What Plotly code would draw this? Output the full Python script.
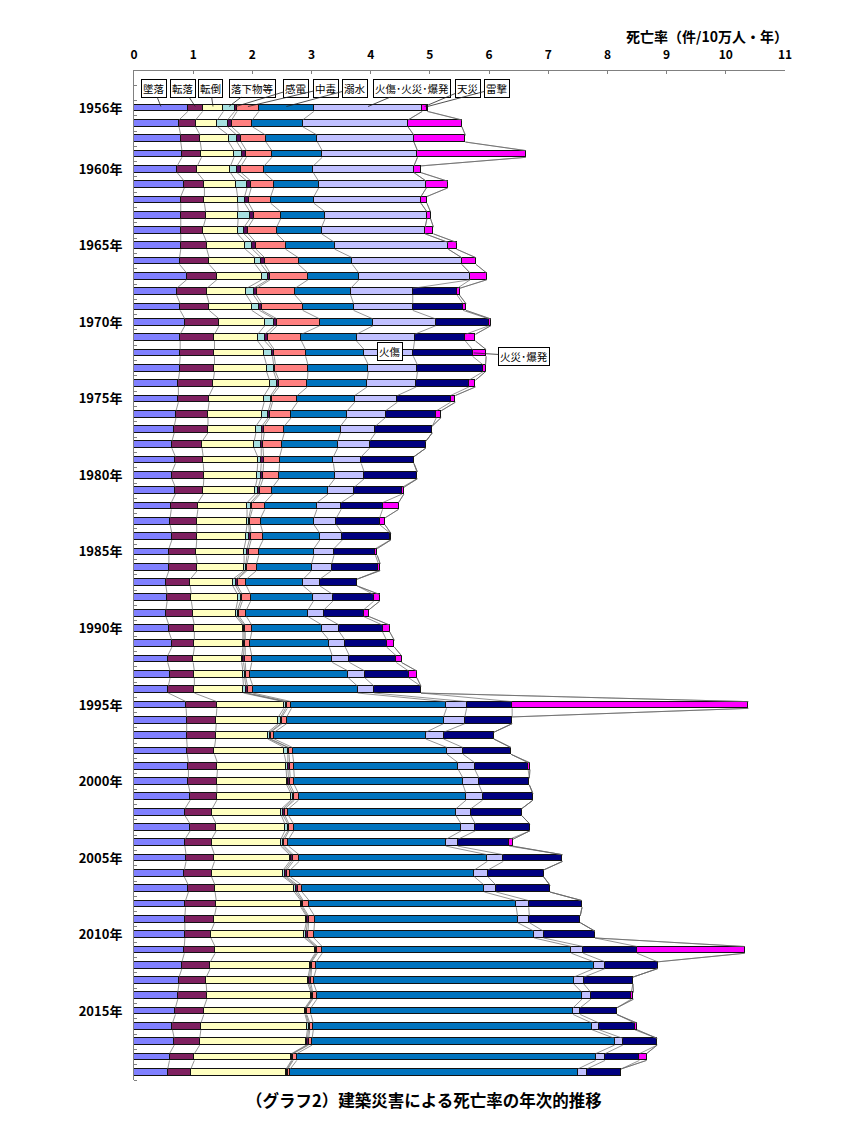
import numpy as np
import plotly.graph_objects as go

years = list(range(1956, 2020))

fall_height = [0.91, 0.76, 0.79, 0.81, 0.73, 0.85, 0.79, 0.79, 0.79, 0.79, 0.77, 0.89,
               0.72, 0.78, 0.86, 0.78, 0.78, 0.77, 0.75, 0.75, 0.71, 0.68, 0.64, 0.70,
               0.64, 0.70, 0.63, 0.61, 0.64, 0.59, 0.59, 0.54, 0.56, 0.54, 0.59, 0.64,
               0.57, 0.61, 0.58, 0.88, 0.89, 0.89, 0.90, 0.92, 0.92, 0.95, 0.86, 0.95,
               0.86, 0.88, 0.85, 0.92, 0.87, 0.86, 0.86, 0.85, 0.81, 0.76, 0.74, 0.70,
               0.65, 0.68, 0.60, 0.57]
fall_down = [0.25, 0.28, 0.33, 0.33, 0.34, 0.34, 0.40, 0.42, 0.38, 0.44, 0.50, 0.51,
             0.51, 0.49, 0.58, 0.58, 0.58, 0.59, 0.59, 0.52, 0.54, 0.57, 0.51, 0.47,
             0.54, 0.47, 0.45, 0.45, 0.42, 0.46, 0.48, 0.41, 0.41, 0.45, 0.43, 0.38,
             0.43, 0.41, 0.44, 0.52, 0.50, 0.49, 0.46, 0.49, 0.48, 0.45, 0.46, 0.44,
             0.45, 0.48, 0.46, 0.45, 0.52, 0.50, 0.44, 0.52, 0.48, 0.46, 0.49, 0.48,
             0.48, 0.43, 0.42, 0.39]
tumble = [0.35, 0.37, 0.48, 0.55, 0.56, 0.54, 0.56, 0.55, 0.58, 0.65, 0.78, 0.76,
          0.67, 0.72, 0.77, 0.73, 0.84, 0.88, 0.95, 0.93, 0.91, 0.81, 0.88, 0.92,
          0.90, 0.88, 0.83, 0.85, 0.83, 0.81, 0.79, 0.72, 0.78, 0.73, 0.82, 0.82,
          0.82, 0.82, 0.83, 1.13, 1.05, 0.88, 1.18, 1.16, 1.18, 1.25, 1.17, 1.16,
          1.17, 1.27, 1.21, 1.34, 1.43, 1.55, 1.58, 1.69, 1.68, 1.72, 1.76, 1.71,
          1.80, 1.80, 1.64, 1.61]
falling_obj = [0.19, 0.17, 0.14, 0.14, 0.11, 0.18, 0.12, 0.20, 0.11, 0.12, 0.10, 0.10,
               0.12, 0.13, 0.16, 0.12, 0.14, 0.12, 0.12, 0.11, 0.11, 0.10, 0.12, 0.06,
               0.06, 0.05, 0.06, 0.03, 0.06, 0.05, 0.03, 0.05, 0.05, 0.03, 0.02, 0.02,
               0.03, 0.03, 0.04, 0.03, 0.04, 0.03, 0.06, 0.03, 0.03, 0.03, 0.03, 0.05,
               0.03, 0.03, 0.03, 0.03, 0.02, 0.02, 0.03, 0.02, 0.015, 0.025, 0.015, 0.015,
               0.02, 0.02, 0.015, 0.015]
electric = [0.04, 0.07, 0.07, 0.07, 0.07, 0.07, 0.07, 0.06, 0.07, 0.06, 0.06, 0.04,
            0.05, 0.04, 0.05, 0.06, 0.03, 0.03, 0.04, 0.03, 0.03, 0.04, 0.03, 0.04,
            0.04, 0.03, 0.03, 0.02, 0.03, 0.03, 0.02, 0.03, 0.03, 0.03, 0.02, 0.02,
            0.03, 0.02, 0.03, 0.03, 0.02, 0.02, 0.02, 0.03, 0.03, 0.03, 0.03, 0.02,
            0.03, 0.03, 0.03, 0.03, 0.02, 0.02, 0.03, 0.02, 0.015, 0.025, 0.015, 0.015,
            0.02, 0.02, 0.015, 0.015]
poison = [0.37, 0.35, 0.42, 0.43, 0.39, 0.38, 0.37, 0.46, 0.48, 0.50, 0.57, 0.64,
          0.65, 0.69, 0.72, 0.56, 0.53, 0.55, 0.48, 0.42, 0.36, 0.34, 0.32, 0.27,
          0.27, 0.21, 0.21, 0.18, 0.20, 0.17, 0.16, 0.15, 0.14, 0.12, 0.11, 0.08,
          0.11, 0.07, 0.09, 0.07, 0.08, 0.06, 0.06, 0.07, 0.07, 0.07, 0.06, 0.08,
          0.07, 0.10, 0.06, 0.07, 0.10, 0.10, 0.10, 0.08, 0.08, 0.05, 0.07, 0.07,
          0.06, 0.06, 0.06, 0.04]
drowning = [0.93, 0.85, 0.87, 0.85, 0.83, 0.76, 0.73, 0.75, 0.76, 0.83, 0.91, 0.86,
            0.94, 0.86, 0.90, 0.93, 0.99, 1.02, 1.01, 0.97, 0.94, 0.95, 0.94, 0.91,
            0.94, 0.94, 0.88, 0.90, 0.96, 0.93, 0.93, 0.96, 1.06, 1.04, 1.19, 1.34,
            1.36, 1.66, 1.77, 2.62, 2.65, 2.56, 2.61, 2.78, 2.85, 2.83, 2.83, 2.83,
            2.66, 3.18, 3.11, 3.08, 3.50, 3.43, 3.72, 4.21, 4.69, 4.39, 4.48, 4.43,
            4.71, 5.11, 5.05, 4.86]
burn = [1.83, 1.78, 1.63, 1.61, 1.70, 1.82, 1.81, 1.72, 1.75, 1.92, 1.85, 1.88,
        1.05, 1.00, 1.06, 0.98, 0.83, 0.83, 0.83, 0.72, 0.65, 0.59, 0.54, 0.47,
        0.50, 0.44, 0.41, 0.38, 0.38, 0.34, 0.34, 0.28, 0.33, 0.27, 0.29, 0.27,
        0.29, 0.28, 0.28, 0.34, 0.36, 0.30, 0.27, 0.28, 0.27, 0.28, 0.25, 0.24,
        0.20, 0.27, 0.23, 0.20, 0.21, 0.20, 0.16, 0.20, 0.19, 0.17, 0.15, 0.12,
        0.12, 0.14, 0.16, 0.15]
fire = [0, 0, 0, 0, 0, 0, 0, 0, 0, 0, 0, 0,
        0.75, 0.85, 0.90, 0.86, 1.00, 1.11, 0.89, 0.90, 0.86, 0.96, 0.95, 0.89,
        0.89, 0.81, 0.70, 0.73, 0.81, 0.70, 0.79, 0.63, 0.69, 0.67, 0.73, 0.70,
        0.79, 0.74, 0.79, 0.77, 0.80, 0.85, 0.81, 0.90, 0.85, 0.85, 0.86, 0.92,
        0.87, 1.00, 0.94, 0.91, 0.90, 0.86, 0.87, 0.91, 0.89, 0.83, 0.68, 0.62,
        0.60, 0.58, 0.58, 0.58]
natural = [0.08, 0.91, 0.87, 1.83, 0.12, 0.36, 0.10, 0.06, 0.14, 0.14, 0.24, 0.28,
           0.04, 0.05, 0.03, 0.17, 0.23, 0.04, 0.11, 0.08, 0.08, 0, 0, 0,
           0.01, 0.03, 0.27, 0.09, 0.01, 0.03, 0.03, 0, 0.10, 0.09, 0.12, 0.13,
           0.09, 0.14, 0, 3.99, 0, 0, 0, 0.03, 0, 0, 0, 0,
           0.06, 0, 0, 0, 0, 0, 0, 1.82, 0, 0, 0.04, 0,
           0.04, 0, 0.12, 0]
lightning = [0.02] + [0] * 63

series_names = ["墜落", "転落", "転倒", "落下物等", "感電", "中毒", "溺水",
                "火傷", "火災･爆発", "天災", "雷撃"]
series_values = [fall_height, fall_down, tumble, falling_obj, electric, poison,
                 drowning, burn, fire, natural, lightning]
series_colors = ["#8080FF", "#7F2060", "#FFFFC0", "#A6E0E0", "#5A0A5A", "#FF8080",
                 "#0073BE", "#C0C0FF", "#000080", "#FF00FF", "#FFFF00"]

legend_texts = ["墜落", "転落", "転倒", "落下物等", "感電", "中毒", "溺水",
                "火傷･火災･爆発", "天災", "雷撃"]
legend_series = [0, 1, 2, 3, 4, 5, 6, 7, 9, 10]
legend_label_x = [0.33, 0.83, 1.29, 2.01, 2.74, 3.24, 3.73, 4.69, 5.64, 6.13]

FONT = "Noto Sans CJK JP"
BAR_W = 0.44

fig = go.Figure()
for name, vals, col in zip(series_names, series_values, series_colors):
    fig.add_trace(go.Bar(
        y=years, x=vals, orientation="h", name=name, width=BAR_W,
        marker=dict(color=col, line=dict(color="#111111", width=1)),
        showlegend=False))

vals_arr = np.array(series_values, dtype=float)
cum = np.cumsum(vals_arr, axis=0)

# series lines (connect segment ends of consecutive bars)
for k in range(cum.shape[0]):
    xs, ys = [], []
    for i in range(len(years) - 1):
        xs += [cum[k, i], cum[k, i + 1], None]
        ys += [years[i] + BAR_W / 2, years[i + 1] - BAR_W / 2, None]
    fig.add_trace(go.Scatter(x=xs, y=ys, mode="lines",
                             line=dict(color="rgba(100,100,100,0.85)", width=0.8),
                             hoverinfo="skip", showlegend=False))

annotations = []
label_y = 1954.7
for txt, si, lx in zip(legend_texts, legend_series, legend_label_x):
    start = cum[si, 0] - vals_arr[si, 0]
    tx = start + vals_arr[si, 0] / 2
    annotations.append(dict(
        x=tx, y=years[0] - 0.1, xref="x", yref="y",
        ax=lx, ay=label_y, axref="x", ayref="y",
        text=txt, showarrow=True, arrowhead=0, arrowwidth=0.8,
        arrowcolor="#222222", standoff=0, startstandoff=0,
        font=dict(family=FONT, size=10.5, color="black"),
        bgcolor="white", bordercolor="black", borderwidth=1, borderpad=1))

# 1972 labels
i72 = years.index(1972)
annotations.append(dict(
    x=4.32, y=1971.9, xref="x", yref="y", text="火傷", showarrow=False,
    font=dict(family=FONT, size=10.5, color="black"),
    bgcolor="white", bordercolor="black", borderwidth=1, borderpad=1))
annotations.append(dict(
    x=cum[8, i72] + 0.02, y=1972.0, xref="x", yref="y",
    ax=6.59, ay=1972.2, axref="x", ayref="y",
    text="火災･爆発", showarrow=True, arrowhead=0, arrowwidth=0.8,
    arrowcolor="#222222", standoff=0,
    font=dict(family=FONT, size=10.5, color="black"),
    bgcolor="white", bordercolor="black", borderwidth=1, borderpad=1))

# axis title & chart title
annotations.append(dict(
    x=0.88, y=1.035, xref="paper", yref="paper", text="<b>死亡率（件/10万人・年）</b>",
    showarrow=False, font=dict(family=FONT, size=14, color="black"),
    xanchor="center", yanchor="middle"))
annotations.append(dict(
    x=0.445, y=-0.02, xref="paper", yref="paper",
    text="<b>（グラフ2）建築災害による死亡率の年次的推移</b>",
    showarrow=False, font=dict(family=FONT, size=16.5, color="black"),
    xanchor="center", yanchor="middle"))

label_years = [1956, 1960, 1965, 1970, 1975, 1980, 1985, 1990, 1995, 2000, 2005, 2010, 2015]

fig.update_layout(
    width=850, height=1133,
    margin=dict(l=126, r=73, t=63, b=61),
    paper_bgcolor="white", plot_bgcolor="white",
    barmode="stack", bargap=0,
    font=dict(family=FONT, color="black"),
    annotations=annotations,
    xaxis=dict(side="top", range=[0, 11], tickmode="array",
               tickvals=list(range(0, 12)), ticktext=[f"<b>{v}</b>" for v in range(0, 12)],
               ticks="inside", ticklen=3, tickcolor="#808080",
               showline=True, linecolor="#808080", linewidth=1,
               showgrid=False, zeroline=False,
               tickfont=dict(family=FONT, size=12, color="black"),
               ticklabelstandoff=6),
    yaxis=dict(range=[2019.5, 1953.58], tickmode="array",
               tickvals=label_years, ticktext=[f"<b>{y}年</b>" for y in label_years],
               ticks="", showline=True, linecolor="#808080", linewidth=1,
               showgrid=False, zeroline=False,
               tickfont=dict(family=FONT, size=13, color="black"),
               ticklabelstandoff=8,
               minor=dict(tickmode="array",
                          tickvals=[y + 0.5 for y in range(1953, 2020)],
                          ticks="inside", ticklen=3, tickcolor="#808080",
                          showgrid=False)),
)

fig.write_html("out.html")
